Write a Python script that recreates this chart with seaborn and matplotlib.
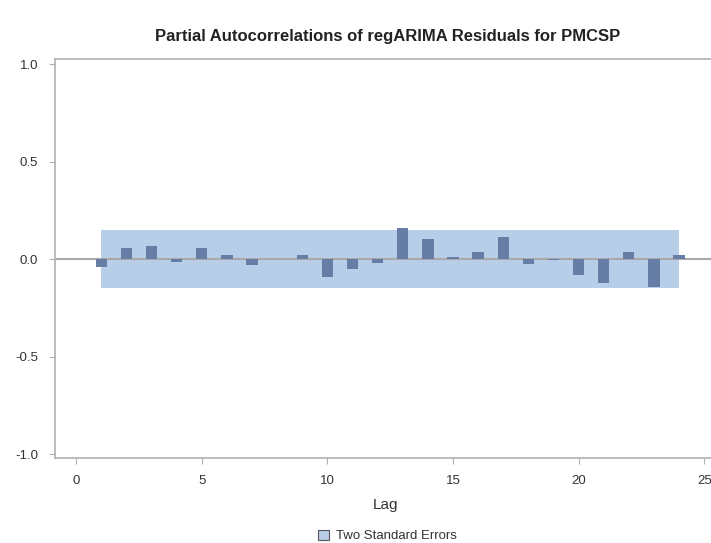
import numpy as np
import pandas as pd
import matplotlib
matplotlib.use("Agg")
import matplotlib.pyplot as plt
import matplotlib.patches as mpatches
import seaborn as sns

# Partial autocorrelations
lags = list(range(1, 25))
pacf = [-0.038, 0.057, 0.070, -0.015, 0.057, 0.022, -0.029, 0.003,
        0.022, -0.089, -0.048, -0.018, 0.163, 0.104, 0.011, 0.040,
        0.117, -0.025, -0.005, -0.083, -0.122, 0.035, -0.141, 0.023]
two_se = 0.148
band_lags = [1, 24]

df = pd.DataFrame({"Lag": lags, "PACF": pacf})

sns.set_theme(style="white")
plt.rcParams["font.family"] = ["Liberation Sans", "DejaVu Sans"]

fig = plt.figure(figsize=(7.11, 5.43), dpi=100)
ax = fig.add_axes([0.0774, 0.1565, 0.93, 0.7348])

band_color = "#b8cde8"
bar_color = "#667ea6"
spine_color = "#b0b0b0"

ax.fill_between(band_lags, -two_se, two_se, color=band_color, zorder=1, linewidth=0)
ax.axhline(0, color="#a8a8a8", lw=1.5, zorder=2)
sns.barplot(data=df, x="Lag", y="PACF", native_scale=True, width=0.45,
            color=bar_color, saturation=1, linewidth=0, ax=ax, zorder=3)

ax.set_xlim(-0.84, 25.48)
ax.set_ylim(-1.02, 1.028)
ax.set_xticks([0, 5, 10, 15, 20, 25])
ax.set_yticks([-1.0, -0.5, 0.0, 0.5, 1.0])
ax.set_yticklabels(["-1.0", "-0.5", "0.0", "0.5", "1.0"])
ax.set_xlabel("Lag", fontsize=11, color="#333333", labelpad=8)
ax.set_ylabel("")
ax.tick_params(axis="both", labelsize=9.5, colors="#333333", length=4,
               width=0.8, direction="out", bottom=True, left=True, pad=8)
ax.tick_params(axis="both", color=spine_color)

for side in ["left", "bottom", "top"]:
    ax.spines[side].set_color(spine_color)
    ax.spines[side].set_linewidth(1.2)
ax.spines["right"].set_visible(False)

fig.suptitle("Partial Autocorrelations of regARIMA Residuals for PMCSP",
             x=0.545, y=0.947, fontsize=12, fontweight="bold", color="#222222")

handle = mpatches.Patch(facecolor=band_color, edgecolor="#555555", linewidth=0.8,
                        label="Two Standard Errors")
fig.legend(handles=[handle], loc="center", bbox_to_anchor=(0.545, 0.013),
           frameon=False, fontsize=9.5, handlelength=0.8, handleheight=0.8,
           handletextpad=0.5, labelcolor="#333333")

fig.savefig("out.png", dpi=100)
